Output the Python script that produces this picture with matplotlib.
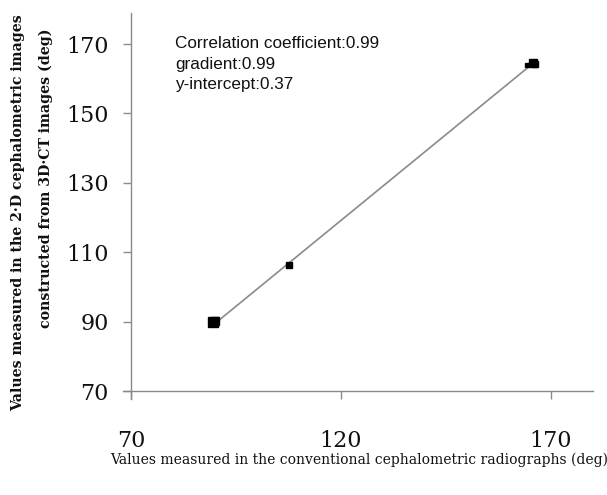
import matplotlib
matplotlib.use("Agg")
import matplotlib.pyplot as plt
import numpy as np

# Data
x_vals = [89.5, 89.9, 107.5, 164.2, 165.6, 166.3]
y_vals = [90.0, 90.3, 106.4, 163.9, 164.6, 164.3]
marker_sizes = [6.5, 5.5, 5, 3.5, 6, 5]
gradient = 0.99
intercept = 0.37
x_ticks = [70, 120, 170]
y_ticks = [70, 90, 110, 130, 150, 170]
stats_lines = ["Correlation coefficient:0.99", "gradient:0.99", "y-intercept:0.37"]

W, H = 607, 495
fig = plt.figure(figsize=(W / 100, H / 100), dpi=100)
ax = fig.add_axes([122.6 / W, 1 - 399 / H, 470.4 / W, 386.2 / H])

ax.set_xlim(68, 180)
ax.set_ylim(67.7, 179)

# regression line
xl = np.array([min(x_vals) + 1.0, max(x_vals) - 1.5])
ax.plot(xl, gradient * xl + intercept, color="#8a8a8a", lw=1.2, zorder=2)

for xv, yv, ms in zip(x_vals, y_vals, marker_sizes):
    ax.plot([xv], [yv], marker="s", ms=ms, color="black", mec="black", ls="none", zorder=3)

for side in ["top", "right"]:
    ax.spines[side].set_visible(False)
ax.spines["left"].set_position(("data", 70))
ax.spines["bottom"].set_position(("data", 70))
for side in ["left", "bottom"]:
    ax.spines[side].set_color("#8a8a8a")
    ax.spines[side].set_linewidth(1.0)

ax.set_xticks(x_ticks)
ax.set_yticks(y_ticks)
ax.set_xticklabels([str(t) for t in x_ticks], family="DejaVu Serif", fontsize=16)
ax.set_yticklabels([str(t) for t in y_ticks], family="DejaVu Serif", fontsize=16)
ax.tick_params(axis="y", direction="out", length=6, width=1, color="#8a8a8a", pad=10, labelcolor="#111111")
ax.tick_params(axis="x", direction="out", length=6, width=1, color="#8a8a8a", pad=22, labelcolor="#111111")

for i, line in enumerate(stats_lines):
    fig.text(175 / W, 1 - (44 + 20 * i) / H, line, family="Liberation Sans", fontsize=12.3,
             ha="left", va="center", color="#111111")

fig.text(359 / W, 1 - 460 / H, "Values measured in the conventional cephalometric radiographs (deg)",
         family="DejaVu Serif", fontsize=10, ha="center", va="center", color="#111111")
fig.text(18 / W, 1 - 213 / H, "Values measured in the 2·D cephalometric images",
         family="DejaVu Serif", fontsize=10.2, fontweight="bold", rotation=90,
         ha="center", va="center", color="#111111")
fig.text(46 / W, 1 - 178 / H, "constructed from 3D·CT images (deg)",
         family="DejaVu Serif", fontsize=10.2, fontweight="bold", rotation=90,
         ha="center", va="center", color="#111111")

fig.savefig("out.png", dpi=100)
